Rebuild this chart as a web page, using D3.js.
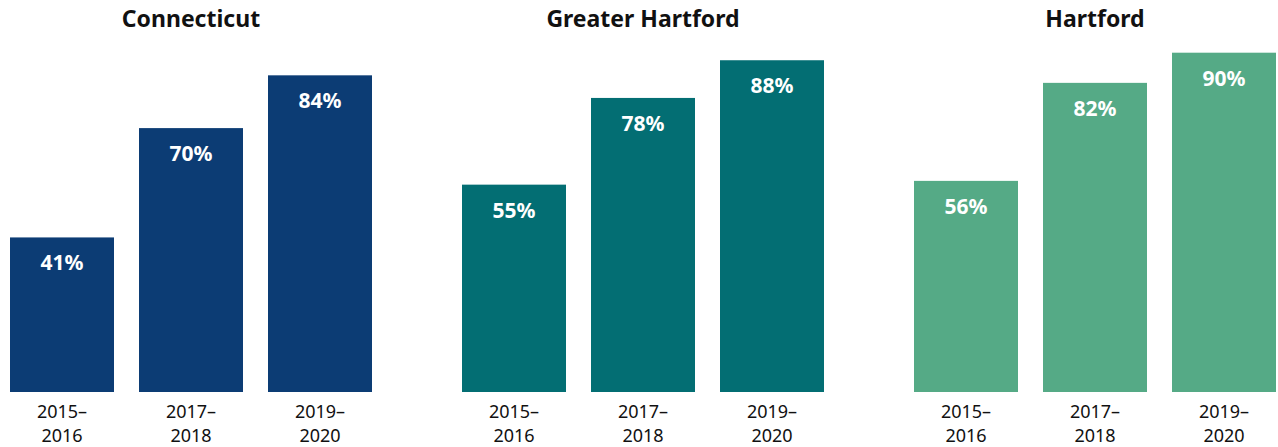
<!DOCTYPE html>
<html>
<head>
<meta charset="utf-8">
<script src="https://cdn.jsdelivr.net/npm/d3@7"></script>
<style>
  body { margin: 0; background: #fff; }
  text { font-family: "Noto Sans", "Open Sans", sans-serif; }
</style>
</head>
<body>
<script>
(function () {
  "use strict";
  var w = 1278,
      h = 447;

  var regions = ["Connecticut", "Greater Hartford", "Hartford"];
  var colors = ["#0c3c74", "#036e73", "#55aa86"];
  var periods = ["2015\u20132016", "2017\u20132018", "2019\u20132020"];
  var periodLines = [["2015\u2013", "2016"], ["2017\u2013", "2018"], ["2019\u2013", "2020"]];
  var connecticut = [41, 70, 84];
  var greaterHartford = [55, 78, 88];
  var hartford = [56, 82, 90];
  var series = [connecticut, greaterHartford, hartford];

  var svg = d3.select("body")
              .append("svg")
              .attr("width", w)
              .attr("height", h);

  // each panel is 362 wide, panels 452 apart
  var panelStart = d => 10 + regions.indexOf(d) * 452;

  var x = d3.scaleBand()
            .domain(periods)
            .range([0, 362])
            .paddingInner(25 / 129)
            .paddingOuter(0);

  var y = d3.scaleLinear()
            .domain([0, 100])
            .range([392, 15]);

  var panels = svg.selectAll("g.panel")
                  .data(regions)
                  .enter()
                  .append("g")
                  .attr("class", "panel")
                  .attr("transform", d => "translate(" + panelStart(d) + ",0)");

  panels.append("text")
        .attr("x", 181)
        .attr("y", 27)
        .attr("text-anchor", "middle")
        .attr("font-size", 23)
        .attr("font-weight", "bold")
        .attr("fill", "#111")
        .text(d => d);

  panels.each(function (region, i) {
    var g = d3.select(this);
    var vals = series[i].map((v, j) => ({ p: periods[j], v: v }));

    g.selectAll("rect")
     .data(vals)
     .enter()
     .append("rect")
     .attr("x", d => x(d.p))
     .attr("y", d => y(d.v))
     .attr("width", x.bandwidth())
     .attr("height", d => y(0) - y(d.v))
     .attr("fill", colors[i]);

    g.selectAll("text.val")
     .data(vals)
     .enter()
     .append("text")
     .attr("class", "val")
     .attr("x", d => x(d.p) + x.bandwidth() / 2)
     .attr("y", d => y(d.v) + 33)
     .attr("text-anchor", "middle")
     .attr("font-size", 21)
     .attr("font-weight", "bold")
     .attr("fill", "#fff")
     .text(d => d.v + "%");

    var ticks = g.selectAll("text.tick")
                 .data(periods)
                 .enter()
                 .append("text")
                 .attr("class", "tick")
                 .attr("text-anchor", "middle")
                 .attr("font-size", 18)
                 .attr("fill", "#111");
    ticks.each(function (p, j) {
      d3.select(this).selectAll("tspan")
        .data(periodLines[j])
        .enter()
        .append("tspan")
        .attr("x", x(p) + x.bandwidth() / 2)
        .attr("y", (d, k) => 418 + k * 24)
        .text(d => d);
    });
  });
})();
</script>
</body>
</html>
